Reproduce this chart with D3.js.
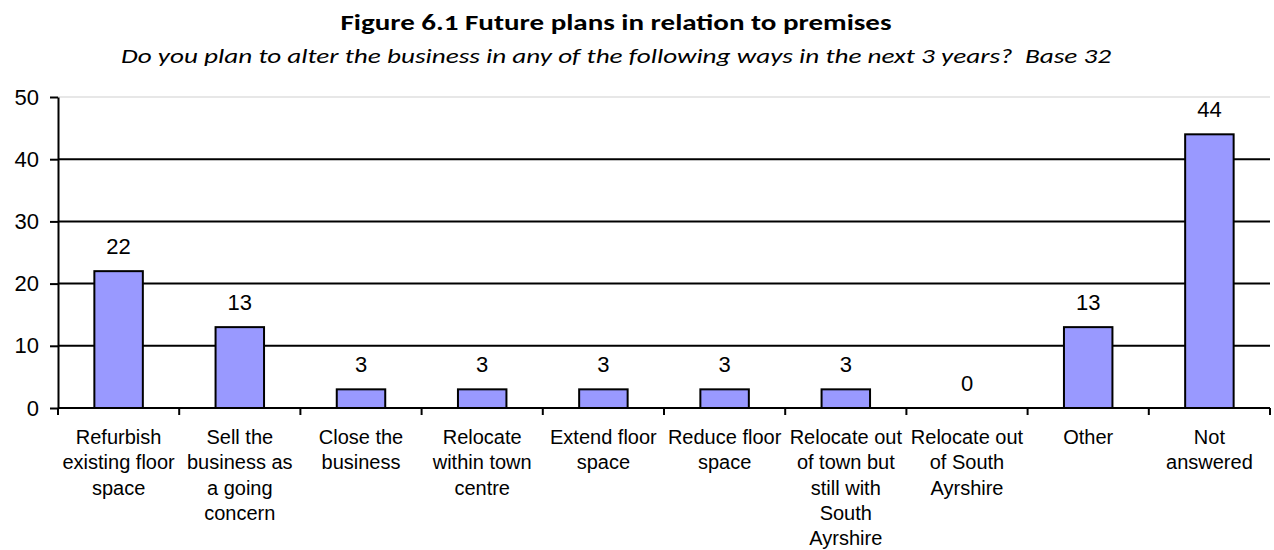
<!DOCTYPE html>
<html>
<head>
<meta charset="utf-8">
<script src="https://cdn.jsdelivr.net/npm/d3@7"></script>
<style>
  html, body { margin: 0; padding: 0; background: #fff; }
  svg { display: block; }
</style>
</head>
<body>
<svg id="chart" width="1274" height="550"></svg>
<script>
// Survey answers: share of businesses (%) planning each change to their premises
const categories = [
  "Refurbish\nexisting floor\nspace",
  "Sell the\nbusiness as\na going\nconcern",
  "Close the\nbusiness",
  "Relocate\nwithin town\ncentre",
  "Extend floor\nspace",
  "Reduce floor\nspace",
  "Relocate out\nof town but\nstill with\nSouth\nAyrshire",
  "Relocate out\nof South\nAyrshire",
  "Other",
  "Not\nanswered"
];
const values = [22, 13, 3, 3, 3, 3, 3, 0, 13, 44];
const yTicks = [0, 10, 20, 30, 40, 50];

const titleText = "Figure 6.1 Future plans in relation to premises";
const subtitleText = "Do you plan to alter the business in any of the following ways in the next 3 years?\u00a0 Base 32";

const svg = d3.select("#chart");
const plot = { left: 58, right: 1270, top: 97, bottom: 408 };
const labelFont = "'Liberation Sans', Arial, Helvetica, sans-serif";
const headFont = "Carlito, Calibri, 'Open Sans', sans-serif";

const x = d3.scaleBand()
  .domain(categories)
  .range([plot.left, plot.right])
  .paddingInner(0.6)
  .paddingOuter(0.3);

const y = d3.scaleLinear()
  .domain([0, 50])
  .range([plot.bottom, plot.top]);

// Headings: both centred over the page, each line set to its measured width
function fitWidth(sel, width) {
  const w = sel.node().getComputedTextLength();
  if (Math.abs(w - width) > 2) sel.attr("textLength", width).attr("lengthAdjust", "spacingAndGlyphs");
}
const headCenter = 616;
const title = svg.append("text")
  .attr("x", headCenter).attr("y", 30)
  .attr("text-anchor", "middle")
  .attr("font-family", headFont)
  .attr("font-weight", "bold")
  .attr("font-size", 22)
  .attr("fill", "#000")
  .text(titleText);
fitWidth(title, 551);

const subtitle = svg.append("text")
  .attr("x", headCenter).attr("y", 63)
  .attr("text-anchor", "middle")
  .attr("font-family", headFont)
  .attr("font-style", "italic")
  .attr("font-size", 20.5)
  .attr("fill", "#000")
  .text(subtitleText);
fitWidth(subtitle, 990);

// Gridlines (top one is the pale plot border)
svg.append("g")
  .selectAll("line")
  .data(yTicks.filter(d => d > 0))
  .join("line")
  .attr("x1", plot.left).attr("x2", plot.right)
  .attr("y1", d => y(d)).attr("y2", d => y(d))
  .attr("stroke", d => d === 50 ? "#cfcfcf" : "#000")
  .attr("stroke-width", d => d === 50 ? 1 : 2);

// Bars
svg.append("g")
  .selectAll("rect")
  .data(values)
  .join("rect")
  .attr("x", (d, i) => x(categories[i]))
  .attr("width", x.bandwidth())
  .attr("y", d => y(d))
  .attr("height", d => y(0) - y(d))
  .attr("fill", "#9999ff")
  .attr("stroke", d => d > 0 ? "#000" : "none")
  .attr("stroke-width", 2);

// Value labels
svg.append("g")
  .selectAll("text")
  .data(values)
  .join("text")
  .attr("x", (d, i) => x(categories[i]) + x.bandwidth() / 2)
  .attr("y", d => y(d) - 17)
  .attr("text-anchor", "middle")
  .attr("font-family", labelFont)
  .attr("font-size", 22)
  .attr("fill", "#000")
  .text(d => d);

// Y axis
const yAxis = svg.append("g")
  .attr("transform", `translate(${plot.left},0)`)
  .call(d3.axisLeft(y).tickValues(yTicks).tickSize(8).tickPadding(11).tickSizeOuter(0));
yAxis.select(".domain").attr("stroke", "#000").attr("stroke-width", 2);
yAxis.selectAll(".tick line").attr("stroke", "#000").attr("stroke-width", 2);
yAxis.selectAll(".tick text")
  .attr("font-family", labelFont)
  .attr("font-size", 22)
  .attr("fill", "#000");

// X axis: baseline with ticks at category boundaries
const step = x.step();
const bounds = d3.range(categories.length + 1).map(i => plot.left + i * step);
svg.append("line")
  .attr("x1", plot.left).attr("x2", plot.right)
  .attr("y1", y(0)).attr("y2", y(0))
  .attr("stroke", "#000").attr("stroke-width", 2);
svg.append("g")
  .selectAll("line")
  .data(bounds)
  .join("line")
  .attr("x1", d => d).attr("x2", d => d)
  .attr("y1", y(0)).attr("y2", y(0) + 7)
  .attr("stroke", "#000").attr("stroke-width", 2);

// Category labels, one tspan per line
const catLabels = svg.append("g")
  .selectAll("text")
  .data(categories)
  .join("text")
  .attr("x", d => x(d) + x.bandwidth() / 2)
  .attr("y", 444)
  .attr("text-anchor", "middle")
  .attr("font-family", labelFont)
  .attr("font-size", 20)
  .attr("fill", "#000");
catLabels.selectAll("tspan")
  .data(d => d.split("\n"))
  .join("tspan")
  .attr("x", function () { return d3.select(this.parentNode).attr("x"); })
  .attr("dy", (d, i) => i === 0 ? 0 : 25.3)
  .text(d => d);
</script>
</body>
</html>
